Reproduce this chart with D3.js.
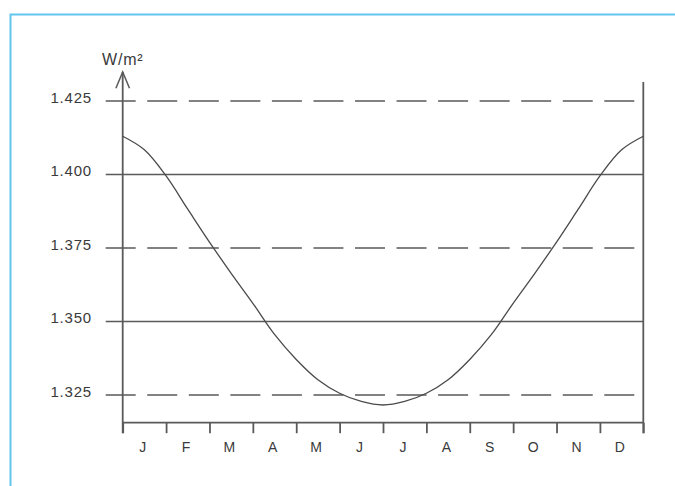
<!DOCTYPE html>
<html>
<head>
<meta charset="utf-8">
<script src="https://cdn.jsdelivr.net/npm/d3@7"></script>
<style>
  html, body { margin: 0; padding: 0; background: #fff; }
  svg { display: block; }
  text { font-family: "Liberation Sans", Arial, Helvetica, sans-serif; fill: #3a3a3a; }
</style>
</head>
<body>
<svg id="chart" width="675" height="486"></svg>
<script>
// Month initials shown under the time axis
const months = ["J", "F", "M", "A", "M", "J", "J", "A", "S", "O", "N", "D"];
// Time in months from 1 January, sampled every half month
const monthTime = [0, 0.5, 1, 1.5, 2, 2.5, 3, 3.5, 4, 4.5, 5, 5.5, 6,
                   6.5, 7, 7.5, 8, 8.5, 9, 9.5, 10, 10.5, 11, 11.5, 12];
// Solar irradiance at the top of the atmosphere, in the axis units
const irradiance = [1.4130, 1.4084, 1.3995, 1.3882, 1.3770, 1.3664, 1.3562, 1.3456, 1.3371, 1.3302, 1.3256, 1.3228, 1.3216,
                    1.3228, 1.3256, 1.3302, 1.3371, 1.3456, 1.3562, 1.3664, 1.3770, 1.3882, 1.3995, 1.4084, 1.4130];
// Value-axis labels and which reference lines are solid
const yTicks = [1.325, 1.350, 1.375, 1.400, 1.425];
const solidLines = [1.350, 1.400];
const unitLabel = "W/m²";

const svg = d3.select("#chart");
const lineColor = "#5a5a5a";

const x = d3.scaleLinear().domain([0, 12]).range([122.7, 643.3]);
const y = d3.scaleLinear().domain([1.325, 1.425]).range([395, 101]);

// Frame
svg.append("path")
  .attr("d", "M10.5,486 V14.5 H675")
  .attr("fill", "none")
  .attr("stroke", "#62c6ef")
  .attr("stroke-width", 2);

// Horizontal reference lines
const gridLeft = 105.7;
svg.append("g").selectAll("line")
  .data(yTicks)
  .join("line")
  .attr("x1", gridLeft)
  .attr("x2", x(12))
  .attr("y1", d => y(d))
  .attr("y2", d => y(d))
  .attr("stroke", lineColor)
  .attr("stroke-width", 1.3)
  .attr("stroke-dasharray", d => solidLines.includes(d) ? null : "30,11.55");

// Value labels
svg.append("g").selectAll("text")
  .data(yTicks)
  .join("text")
  .attr("x", 92)
  .attr("y", d => y(d) + 1.5)
  .attr("text-anchor", "end")
  .attr("font-size", 15)
  .attr("letter-spacing", 0.8)
  .text(d => d3.format(".3f")(d));

// Time axis with month boundary ticks
const axisY = 422.7;
const xAxis = d3.axisBottom(x)
  .tickValues(d3.range(0, 13))
  .tickSize(10.5)
  .tickFormat("");
const gx = svg.append("g").attr("transform", `translate(0,${axisY})`).call(xAxis);
gx.select(".domain").attr("stroke", lineColor).attr("stroke-width", 1.8)
  .attr("d", `M${x(0)},0H${x(12)}`);
gx.selectAll(".tick line").attr("stroke", lineColor).attr("stroke-width", 1.8);

// Month labels centred in each month
svg.append("g").selectAll("text")
  .data(months)
  .join("text")
  .attr("x", (d, i) => x(i + 0.5) - 1.5)
  .attr("y", 451.5)
  .attr("text-anchor", "middle")
  .attr("font-size", 14)
  .attr("letter-spacing", 0.5)
  .text(d => d);

// Vertical axes
svg.append("line")
  .attr("x1", x(0)).attr("x2", x(0))
  .attr("y1", 72).attr("y2", axisY + 10.5)
  .attr("stroke", lineColor).attr("stroke-width", 1.8);
svg.append("line")
  .attr("x1", x(12)).attr("x2", x(12))
  .attr("y1", 82).attr("y2", axisY + 10.5)
  .attr("stroke", lineColor).attr("stroke-width", 1.8);

// Arrow head on the value axis
svg.append("path")
  .attr("d", `M${x(0) - 6.8},88.3 L${x(0)},72 L${x(0) + 6.8},88.3`)
  .attr("fill", "none")
  .attr("stroke", lineColor)
  .attr("stroke-width", 1.5);

// Unit label
svg.append("text")
  .attr("x", x(0))
  .attr("y", 65)
  .attr("text-anchor", "middle")
  .attr("font-size", 16)
  .attr("letter-spacing", 0.8)
  .text(unitLabel);

// Irradiance curve over the year
const curve = d3.line()
  .x((d, i) => x(monthTime[i]))
  .y(d => y(d))
  .curve(d3.curveCatmullRom.alpha(0.5));
svg.append("path")
  .datum(irradiance)
  .attr("d", curve)
  .attr("fill", "none")
  .attr("stroke", "#4a4a4a")
  .attr("stroke-width", 1.3);
</script>
</body>
</html>
